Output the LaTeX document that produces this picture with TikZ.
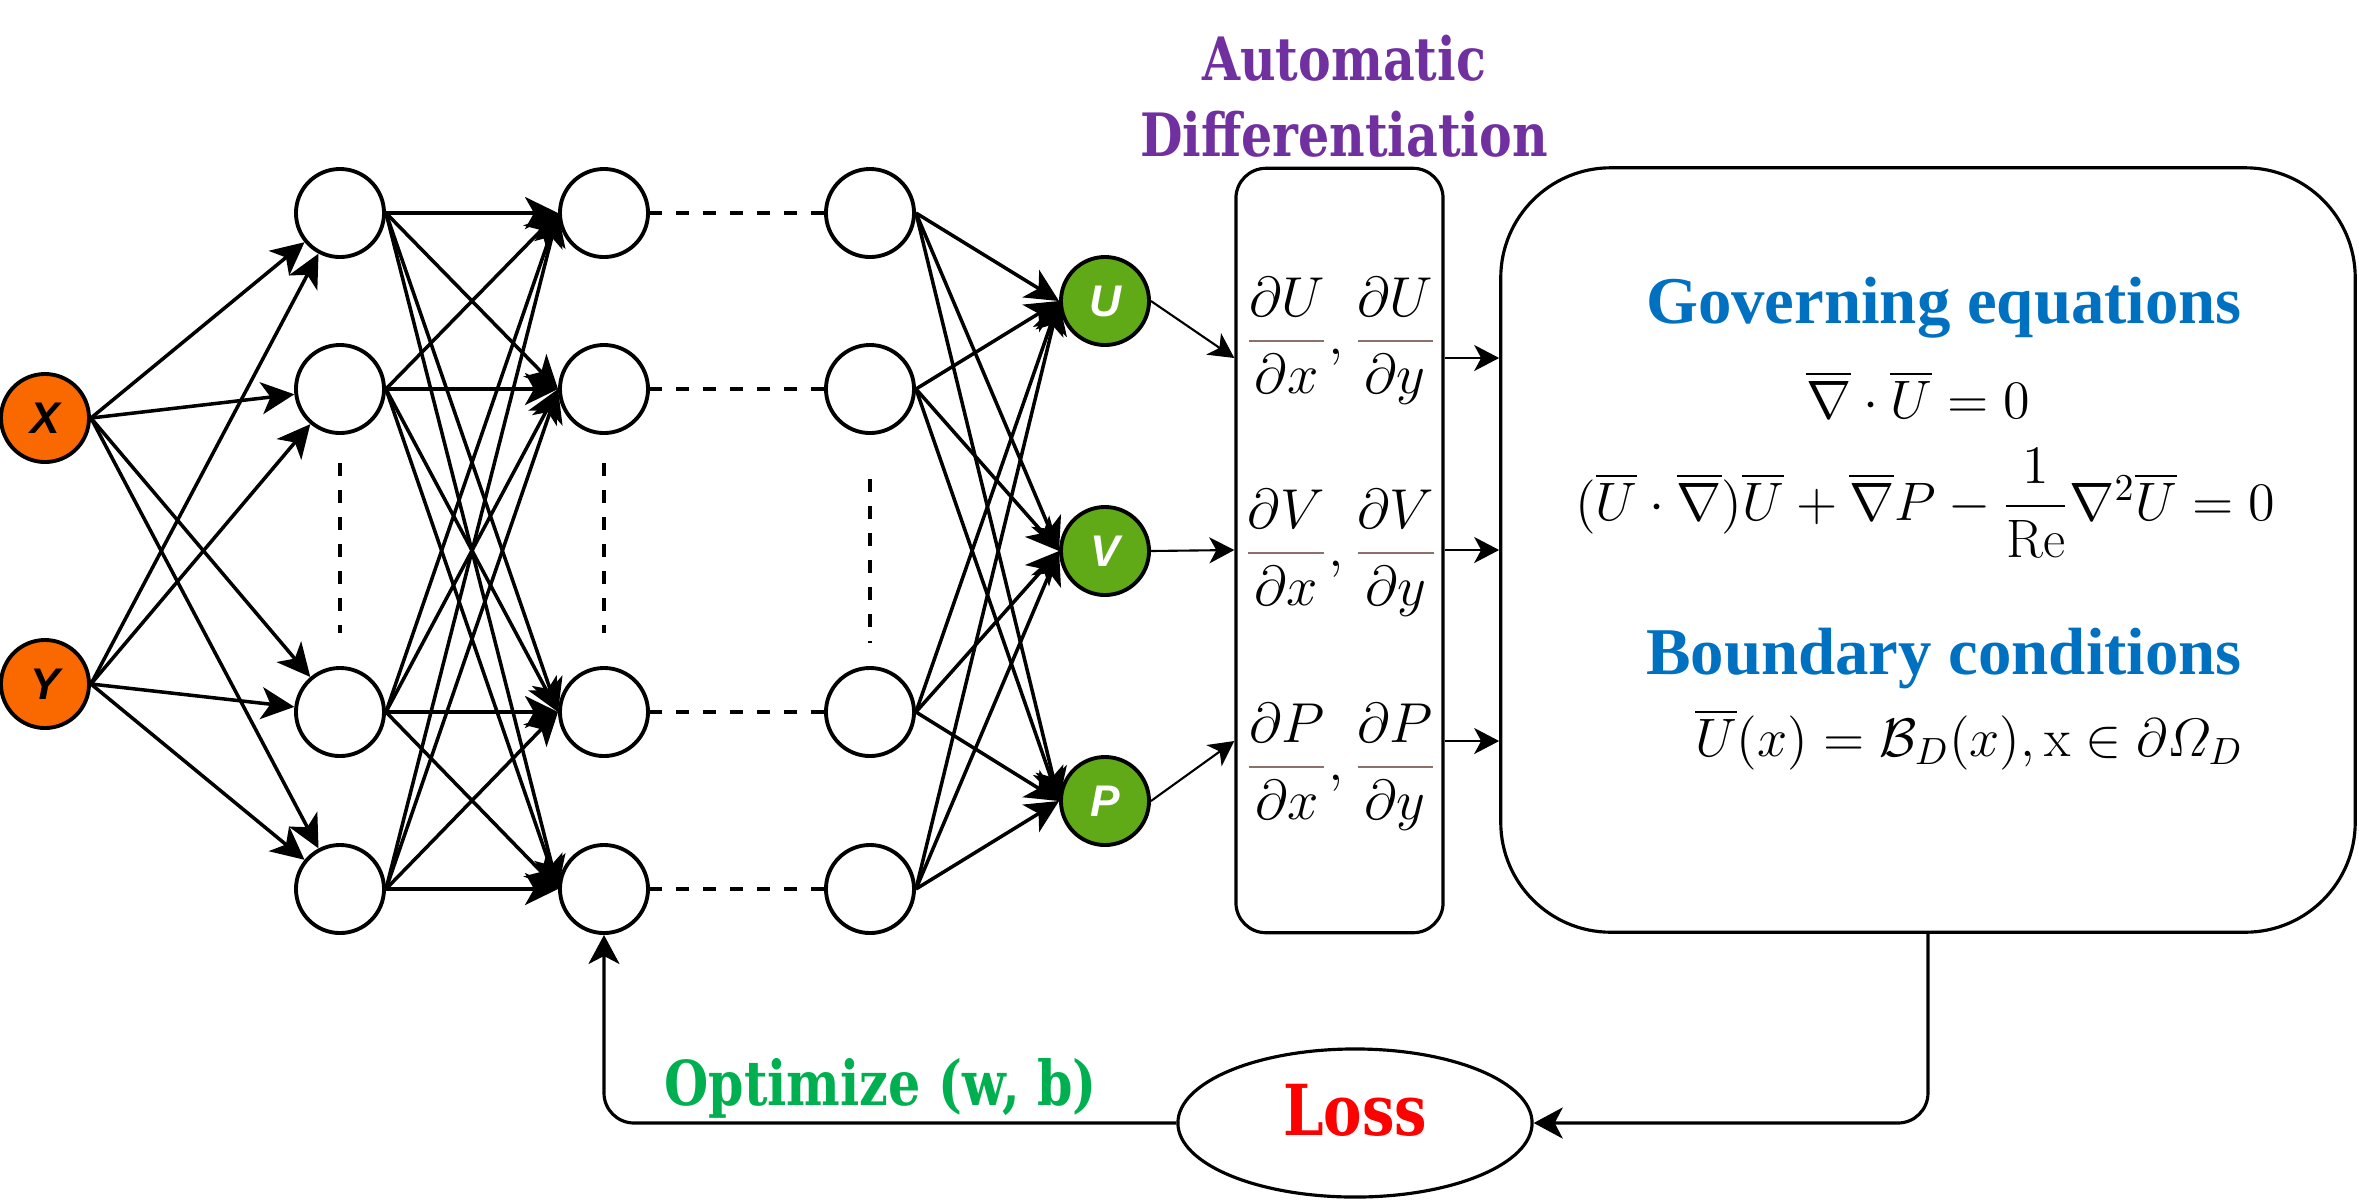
\RequirePackage{fix-cm}
\documentclass[tikz,border=0pt]{standalone}
\usepackage{amsmath}
\usepackage{fontspec}
\usetikzlibrary{arrows.meta,shapes.geometric}
\newfontfamily\slabfont[FakeStretch=0.82]{DejaVu Serif}
\newfontfamily\headfont{Liberation Serif}
\newfontfamily\nodefont{Liberation Sans}
\definecolor{incolor}{HTML}{FA6800}
\definecolor{outcolor}{HTML}{60A917}
\definecolor{adcolor}{HTML}{7030A0}
\definecolor{eqcolor}{HTML}{0070C0}
\definecolor{optcolor}{HTML}{00B050}
\definecolor{losscolor}{HTML}{FF0000}
\definecolor{barcolor}{HTML}{8C706C}
\newcommand{\pdiff}[2]{{\color{barcolor}\dfrac{\color{black}\partial #1}{\color{black}\partial #2}}}
\tikzset{
  neuron/.style={circle, draw, line width=1.1pt, fill=white, minimum size=0.88cm, inner sep=0pt},
  innode/.style={neuron, fill=incolor, font=\nodefont\bfseries\itshape\fontsize{12.6}{14}\selectfont},
  outnode/.style={neuron, fill=outcolor, text=white, font=\nodefont\bfseries\itshape\fontsize{12.6}{14}\selectfont},
  nnarrow/.style={line width=1pt, -{Stealth[length=3.3mm,width=3.2mm,inset=0.9mm]}},
  fbarrow/.style={line width=0.9pt, -{Stealth[length=2.9mm,width=3.1mm,inset=0.8mm]}},
  thinarrow/.style={line width=0.6pt, -{Stealth[length=2.5mm,width=2.6mm,inset=0.7mm]}},
  skipline/.style={line width=1.1pt, dash pattern=on 3.7pt off 4pt},
  box/.style={draw, line width=0.9pt, inner sep=0pt}
}

\begin{document}
\begin{tikzpicture}[x=0.01cm, y=-0.01cm]
  \useasboundingbox (0,0) rectangle (2359,1202);
  % inputs and hidden layers
  \node[innode] (inx) at (45,418) {X}; \node[innode] (iny) at (45,684) {Y};
  \foreach \r/\ry in {a/213,b/389,c/712,d/889}{
    \node[neuron] (h1\r) at (340,\ry) {}; \node[neuron] (h2\r) at (604,\ry) {}; \node[neuron] (h3\r) at (870,\ry) {};
  }
  % outputs
  \node[outnode] (u) at (1105,301) {U}; \node[outnode] (v) at (1105,551) {V}; \node[outnode] (p) at (1105,801) {P};
  % weights
  \foreach \s in {inx,iny} \foreach \t in {a,b,c,d} \draw[nnarrow] (\s.east) -- (h1\t);
  \foreach \s in {a,b,c,d} \foreach \t in {a,b,c,d} \draw[nnarrow] (h1\s.east) -- (h2\t.west);
  \foreach \s in {a,b,c,d} \foreach \t in {u,v,p} \draw[nnarrow] (h3\s.east) -- (\t.west);
  % skipped layers
  \foreach \r in {a,b,c,d} \draw[skipline] (h3\r) -- (h2\r);
  \draw[skipline, shorten <=0.28cm, shorten >=0.33cm] (h1b) -- (h1c);
  \draw[skipline, shorten <=0.28cm, shorten >=0.33cm] (h2b) -- (h2c);
  \draw[skipline, shorten <=0.44cm, shorten >=0.23cm] (h3b) -- (h3c);
  % automatic differentiation
  \node[text=adcolor, align=center, font=\slabfont\bfseries\fontsize{17}{21.6}\selectfont] (adtitle) at (1344,96) {Automatic\\Differentiation};
  \node[box, rounded corners=0.3cm, minimum width=2.07cm, minimum height=7.64cm] (ad) at (1339.5,550.5) {};
  \node[font=\fontsize{16}{19}\selectfont] (du) at (1341,341) {$\pdiff{U}{x},\pdiff{U}{y}$};
  \node[font=\fontsize{16}{19}\selectfont] (dv) at (1341,553) {$\pdiff{V}{x},\pdiff{V}{y}$};
  \node[font=\fontsize{16}{19}\selectfont] (dp) at (1341,767) {$\pdiff{P}{x},\pdiff{P}{y}$};
  \coordinate (rowu) at (0,358); \coordinate (rowv) at (0,550); \coordinate (rowp) at (0,741);
  \draw[thinarrow] (u.east) -- (ad.west |- rowu);
  \draw[thinarrow] (v.east) -- (ad.west |- rowv);
  \draw[thinarrow] (p.east) -- (ad.west |- rowp);
  % physics
  \node[box, rounded corners=1.1cm, minimum width=8.54cm, minimum height=7.64cm] (pde) at (1928,550) {};
  \foreach \r in {u,v,p} \draw[thinarrow] (ad.east |- row\r) -- (pde.west |- row\r);
  \node[anchor=base, text=eqcolor, font=\headfont\bfseries\fontsize{19}{22}\selectfont] (goveq) at (1944,323) {Governing equations};
  \node[anchor=base, font=\fontsize{15.4}{18}\selectfont] (conteq) at (1918,418) {$\overline{\nabla}\cdot\overline{U}=0$};
  \node[anchor=base, font=\fontsize{15.4}{18}\selectfont] (momeq) at (1925,520) {$(\overline{U}\cdot\overline{\nabla})\overline{U}+\overline{\nabla}P-\dfrac{1}{\mathrm{Re}}\nabla^{2}\overline{U}=0$};
  \node[anchor=base, text=eqcolor, font=\headfont\bfseries\fontsize{19}{22}\selectfont] (bctitle) at (1944,674) {Boundary conditions};
  \node[anchor=base, font=\fontsize{15.4}{18}\selectfont] (bceq) at (1969,756) {$\overline{U}(x)=\mathcal{B}_{D}(x),\mathrm{x}\in\partial\varOmega_{D}$};
  % loss and feedback
  \node[ellipse, box, minimum width=3.54cm, minimum height=1.48cm, text=losscolor, font=\slabfont\bfseries\fontsize{20}{24}\selectfont, text height=14.5pt, text depth=7.5pt] (loss) at (1355,1123) {Loss};
  \coordinate (pdeout) at (1928,932);
  \draw[fbarrow, rounded corners=0.3cm] (pdeout) |- (loss);
  \draw[fbarrow, rounded corners=0.3cm] (loss) -| (h2d);
  \node[anchor=base west, text=optcolor, font=\slabfont\bfseries\fontsize{17.6}{20}\selectfont] (optlabel) at (652,1105) {Optimize (w, b)};
\end{tikzpicture}
\end{document}
